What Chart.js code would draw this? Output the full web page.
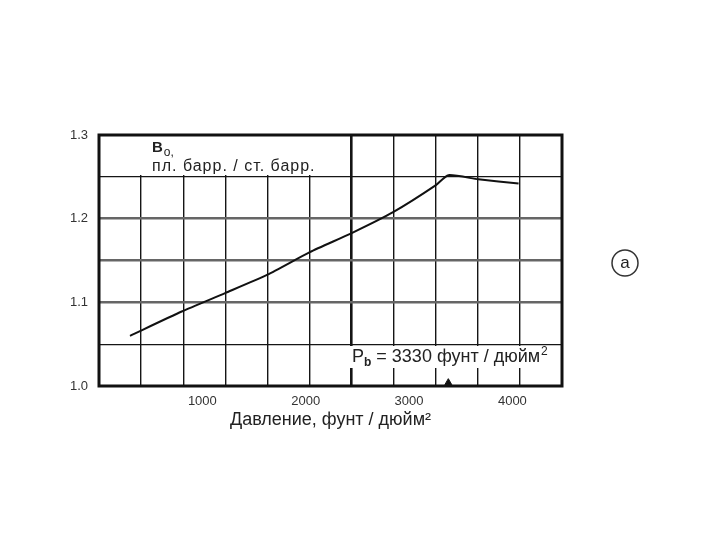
<!DOCTYPE html>
<html>
<head>
<meta charset="utf-8">
<script src="https://cdn.jsdelivr.net/npm/chart.js@4"></script>
<style>
  html, body { margin: 0; padding: 0; background: #fff; }
  #c { display: block; }
</style>
</head>
<body>
<canvas id="c" width="720" height="540"></canvas>
<script>
// Pressure, psi
const pressure = [300, 800, 1220, 1630, 2040, 2450, 2850, 3260, 3380, 3670, 4060];
// Bo, res bbl / STB
const bo = [1.060, 1.089, 1.111, 1.133, 1.160, 1.183, 1.208, 1.240, 1.252, 1.247, 1.242];
// bubble point marker
const bubbleX = [3380];
const bubbleY = [1.004];

const xLabelTicks = [1000, 2000, 3000, 4000];
const xGridTicks = [407, 815, 1222, 1629, 2036, 2444, 2851, 3258, 3665, 4073];
const xMin = 0, xMax = 4480;
const yMin = 1.0, yMax = 1.3;

const FONT = '"Liberation Sans", Arial, sans-serif';
const INK = '#222';

const extras = {
  id: 'extras',
  beforeDatasetsDraw(chart) {
    const ctx = chart.ctx;
    ctx.save();
    ctx.fillStyle = '#fff';
    // boxes behind the captions
    ctx.fillRect(140, 136, 180, 39);
    ctx.fillRect(344, 346, 204, 22);
    ctx.restore();
  },
  afterDraw(chart) {
    const ctx = chart.ctx;
    const a = chart.chartArea;
    ctx.save();
    // frame
    ctx.strokeStyle = '#111';
    ctx.lineWidth = 3;
    ctx.strokeRect(a.left, a.top, a.right - a.left, a.bottom - a.top);

    ctx.fillStyle = INK;
    ctx.textBaseline = 'alphabetic';
    ctx.textAlign = 'left';

    // Bo caption
    ctx.font = 'bold 15px ' + FONT;
    ctx.fillText('B', 152, 152);
    let x = 152 + ctx.measureText('B').width;
    ctx.font = '12px ' + FONT;
    ctx.fillText('o,', x + 1, 156);
    ctx.font = '16px ' + FONT;
    ctx.letterSpacing = '1px';
    ctx.fillText('пл. барр. / ст. барр.', 152, 171);
    ctx.letterSpacing = '0px';

    // Pb caption
    ctx.font = '18px ' + FONT;
    ctx.fillText('P', 352, 362);
    x = 352 + ctx.measureText('P').width;
    ctx.font = 'bold 12px ' + FONT;
    ctx.fillText('b', x, 366);
    x += ctx.measureText('b').width;
    ctx.font = '18px ' + FONT;
    const s = ' = 3330 фунт / дюйм';
    ctx.fillText(s, x, 362);
    x += ctx.measureText(s).width;
    ctx.font = '12px ' + FONT;
    ctx.fillText('2', x + 1, 355);

    // circled a
    ctx.lineWidth = 1.5;
    ctx.strokeStyle = '#333';
    ctx.beginPath();
    ctx.arc(625, 263, 13, 0, Math.PI * 2);
    ctx.stroke();
    ctx.font = '17px ' + FONT;
    ctx.textAlign = 'center';
    ctx.textBaseline = 'middle';
    ctx.fillText('a', 625, 263);
    ctx.restore();
  }
};

new Chart(document.getElementById('c'), {
  type: 'scatter',
  data: {
    datasets: [{
      data: pressure.map((p, i) => ({ x: p, y: bo[i] })),
      showLine: true,
      borderColor: '#111',
      borderWidth: 2,
      pointRadius: 0,
      tension: 0.2,
      xAxisID: 'x',
      yAxisID: 'y'
    }, {
      data: bubbleX.map((p, i) => ({ x: p, y: bubbleY[i] })),
      showLine: false,
      pointStyle: 'triangle',
      pointRadius: 4,
      backgroundColor: '#111',
      borderColor: '#111',
      borderWidth: 1,
      xAxisID: 'x',
      yAxisID: 'y'
    }]
  },
  options: {
    responsive: false,
    animation: false,
    layout: { padding: { left: 0, top: 135, right: 158, bottom: 106 } },
    plugins: { legend: { display: false }, tooltip: { enabled: false } },
    scales: {
      x: {
        type: 'linear',
        position: 'bottom',
        min: xMin, max: xMax,
        afterBuildTicks: s => { s.ticks = xLabelTicks.map(v => ({ value: v })); },
        afterFit: s => { s.height = 48; },
        grid: { display: false, drawTicks: false },
        border: { display: false },
        ticks: {
          padding: 8,
          color: '#333',
          font: { family: FONT, size: 13 },
          callback: v => String(v)
        },
        title: {
          display: true,
          text: 'Давление, фунт / дюйм²',
          color: INK,
          font: { family: FONT, size: 18 },
          padding: { top: 0, bottom: 3 }
        }
      },
      xg: {
        type: 'linear',
        position: 'top',
        min: xMin, max: xMax,
        afterBuildTicks: s => { s.ticks = xGridTicks.map(v => ({ value: v })); },
        afterFit: s => { s.height = 0; },
        ticks: { display: false },
        border: { display: false },
        grid: {
          drawTicks: false,
          color: '#151515',
          lineWidth: c => (c.tick && c.tick.value === 2444 ? 2.6 : 1.4)
        }
      },
      y: {
        type: 'linear',
        min: yMin, max: yMax,
        afterFit: s => { s.width = 99; },
        border: { display: false },
        ticks: {
          stepSize: 0.05,
          padding: 11,
          color: '#333',
          font: { family: FONT, size: 13 },
          callback: v => {
            const t = v * 10;
            return Math.abs(t - Math.round(t)) < 1e-6 ? v.toFixed(1) : '';
          }
        },
        grid: {
          drawTicks: false,
          color: c => {
            const k = Math.round(c.tick.value * 100);
            return (k === 110 || k === 115 || k === 120) ? '#666' : '#151515';
          },
          lineWidth: c => {
            const k = Math.round(c.tick.value * 100);
            return (k === 110 || k === 115 || k === 120) ? 2.5 : 1.2;
          }
        }
      }
    }
  },
  plugins: [extras]
});
</script>
</body>
</html>
